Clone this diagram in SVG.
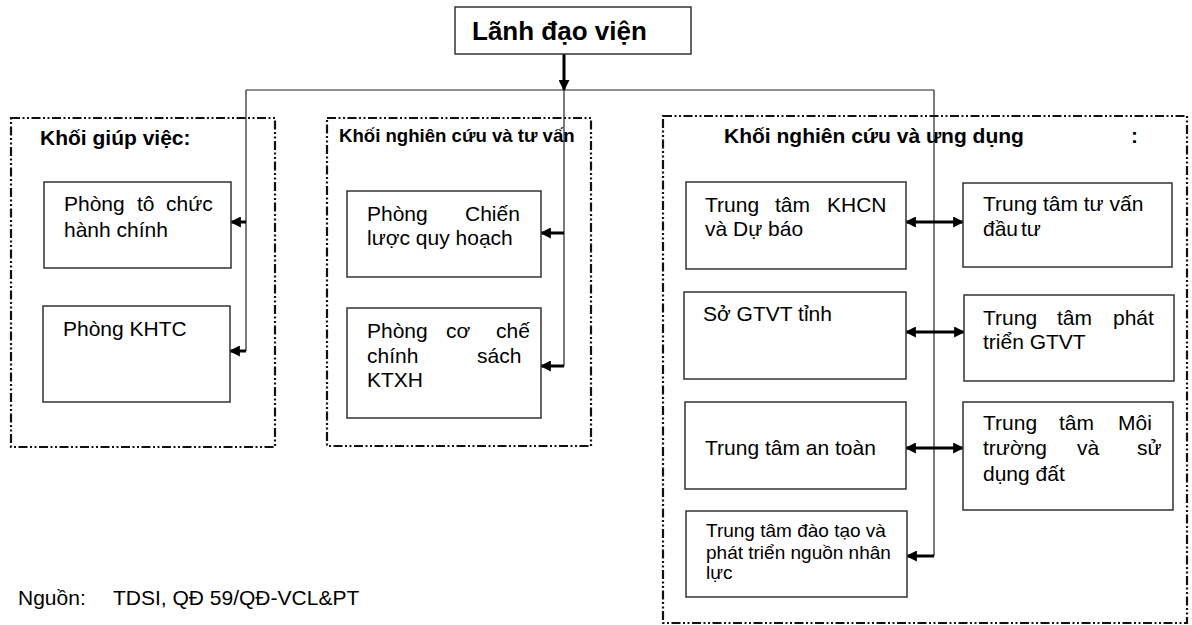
<svg xmlns="http://www.w3.org/2000/svg" width="1192" height="625" viewBox="0 0 1192 625">
  <style>
    text { font-family: "Liberation Sans", Arial, sans-serif; fill: #000; }
    .t { font-size: 21px; }
    .ts { font-size: 19px; }
    .h { font-size: 21px; font-weight: bold; }
    .hs { font-size: 18.6px; font-weight: bold; }
    .top { font-size: 26px; font-weight: bold; }
    .box { fill: #fff; stroke: #333; stroke-width: 1.5; }
    .group { fill: none; stroke: #111; stroke-width: 2.2; stroke-dasharray: 9 2.5 2 2.5 2 2.5; }
    .wire { fill: none; stroke: #222; stroke-width: 1.2; }
    .arrow { fill: none; stroke: #000; stroke-width: 3; }
  </style>
  <defs>
    <marker id="head" viewBox="0 0 10 10" refX="9" refY="5" markerUnits="userSpaceOnUse" markerWidth="12" markerHeight="11" orient="auto-start-reverse">
      <path d="M0,0 L10,5 L0,10 z" fill="#000"/>
    </marker>
  </defs>

  <!-- group frames -->
  <rect class="group" x="11" y="118" width="264" height="329"/>
  <rect class="group" x="327" y="118" width="264" height="328"/>
  <rect class="group" x="663" y="116" width="524" height="507"/>

  <!-- connectors -->
  <g id="connectors">
    <line class="arrow" x1="564" y1="54" x2="564" y2="90" marker-end="url(#head)"/>
    <line class="wire" x1="246" y1="90" x2="934" y2="90"/>
    <line class="wire" x1="246" y1="90" x2="246" y2="351"/>
    <line class="wire" x1="564" y1="90" x2="564" y2="366"/>
    <line class="wire" x1="934" y1="90" x2="934" y2="556"/>
    <line class="arrow" x1="246" y1="222" x2="231" y2="222" marker-end="url(#head)"/>
    <line class="arrow" x1="246" y1="351" x2="230" y2="351" marker-end="url(#head)"/>
    <line class="arrow" x1="564" y1="233" x2="541" y2="233" marker-end="url(#head)"/>
    <line class="arrow" x1="564" y1="366" x2="541" y2="366" marker-end="url(#head)"/>
    <line class="arrow" x1="906" y1="222" x2="963" y2="222" marker-start="url(#head)" marker-end="url(#head)"/>
    <line class="arrow" x1="906" y1="332" x2="964" y2="332" marker-start="url(#head)" marker-end="url(#head)"/>
    <line class="arrow" x1="906" y1="448" x2="963" y2="448" marker-start="url(#head)" marker-end="url(#head)"/>
    <line class="arrow" x1="934" y1="556" x2="907" y2="556" marker-end="url(#head)"/>
  </g>

  <!-- top node -->
  <g id="lanh-dao-vien">
    <rect class="box" x="455" y="7" width="236" height="47"/>
    <text class="top" x="472" y="40">Lãnh đạo viện</text>
  </g>

  <!-- group titles -->
  <text class="h" x="40" y="145">Khối giúp việc:</text>
  <text class="hs" x="339" y="142">Khối nghiên cứu và tư vấn</text>
  <text class="h" x="724" y="143">Khối nghiên cứu và ưng dụng</text>
  <text class="h" x="1131" y="143">:</text>

  <!-- Khối giúp việc -->
  <g id="phong-to-chuc">
    <rect class="box" x="44" y="182" width="187" height="86"/>
    <text class="t" y="211"><tspan x="64">Phòng</tspan><tspan x="137">tô</tspan><tspan x="166">chức</tspan></text>
    <text class="t" x="64" y="237">hành chính</text>
  </g>
  <g id="phong-khtc">
    <rect class="box" x="43" y="306" width="187" height="96"/>
    <text class="t" x="63" y="336">Phòng KHTC</text>
  </g>

  <!-- Khối nghiên cứu và tư vấn -->
  <g id="phong-chien-luoc">
    <rect class="box" x="347" y="191" width="194" height="86"/>
    <text class="t" y="221"><tspan x="367">Phòng</tspan><tspan x="465">Chiến</tspan></text>
    <text class="t" x="367" y="245">lược quy hoạch</text>
  </g>
  <g id="phong-co-che">
    <rect class="box" x="347" y="308" width="194" height="110"/>
    <text class="t" y="338"><tspan x="367">Phòng</tspan><tspan x="446">cơ</tspan><tspan x="496">chế</tspan></text>
    <text class="t" y="363"><tspan x="367">chính</tspan><tspan x="477">sách</tspan></text>
    <text class="t" x="367" y="387">KTXH</text>
  </g>

  <!-- Khối nghiên cứu và ứng dụng -->
  <g id="tt-khcn">
    <rect class="box" x="686" y="182" width="220" height="87"/>
    <text class="t" y="212"><tspan x="705">Trung</tspan><tspan x="775">tâm</tspan><tspan x="827">KHCN</tspan></text>
    <text class="t" x="705" y="236">và Dự báo</text>
  </g>
  <g id="tt-tu-van">
    <rect class="box" x="963" y="183" width="209" height="84"/>
    <text class="t" x="983" y="211">Trung tâm tư vấn</text>
    <text class="t" y="236"><tspan x="983">đầu</tspan><tspan x="1021">tư</tspan></text>
  </g>
  <g id="so-gtvt">
    <rect class="box" x="684" y="292" width="222" height="87"/>
    <text class="t" x="703" y="321">Sở GTVT tỉnh</text>
  </g>
  <g id="tt-phat-trien">
    <rect class="box" x="964" y="295" width="210" height="86"/>
    <text class="t" y="325"><tspan x="983">Trung</tspan><tspan x="1057">tâm</tspan><tspan x="1113">phát</tspan></text>
    <text class="t" x="983" y="349">triển GTVT</text>
  </g>
  <g id="tt-an-toan">
    <rect class="box" x="685" y="402" width="221" height="87"/>
    <text class="t" x="705" y="455">Trung tâm an toàn</text>
  </g>
  <g id="tt-moi-truong">
    <rect class="box" x="963" y="402" width="210" height="108"/>
    <text class="t" y="430"><tspan x="983">Trung</tspan><tspan x="1059">tâm</tspan><tspan x="1118">Môi</tspan></text>
    <text class="t" y="455"><tspan x="983">trường</tspan><tspan x="1077">và</tspan><tspan x="1137">sử</tspan></text>
    <text class="t" x="983" y="481">dụng đất</text>
  </g>
  <g id="tt-dao-tao">
    <rect class="box" x="686" y="511" width="221" height="86"/>
    <text class="ts" x="706" y="537">Trung tâm đào tạo và</text>
    <text class="ts" x="706" y="559">phát triển nguồn nhân</text>
    <text class="ts" x="706" y="579">lực</text>
  </g>

  <!-- source note -->
  <text class="t" x="18" y="605">Nguồn:</text>
  <text class="t" x="113" y="605">TDSI, QĐ 59/QĐ-VCL&amp;PT</text>
</svg>
